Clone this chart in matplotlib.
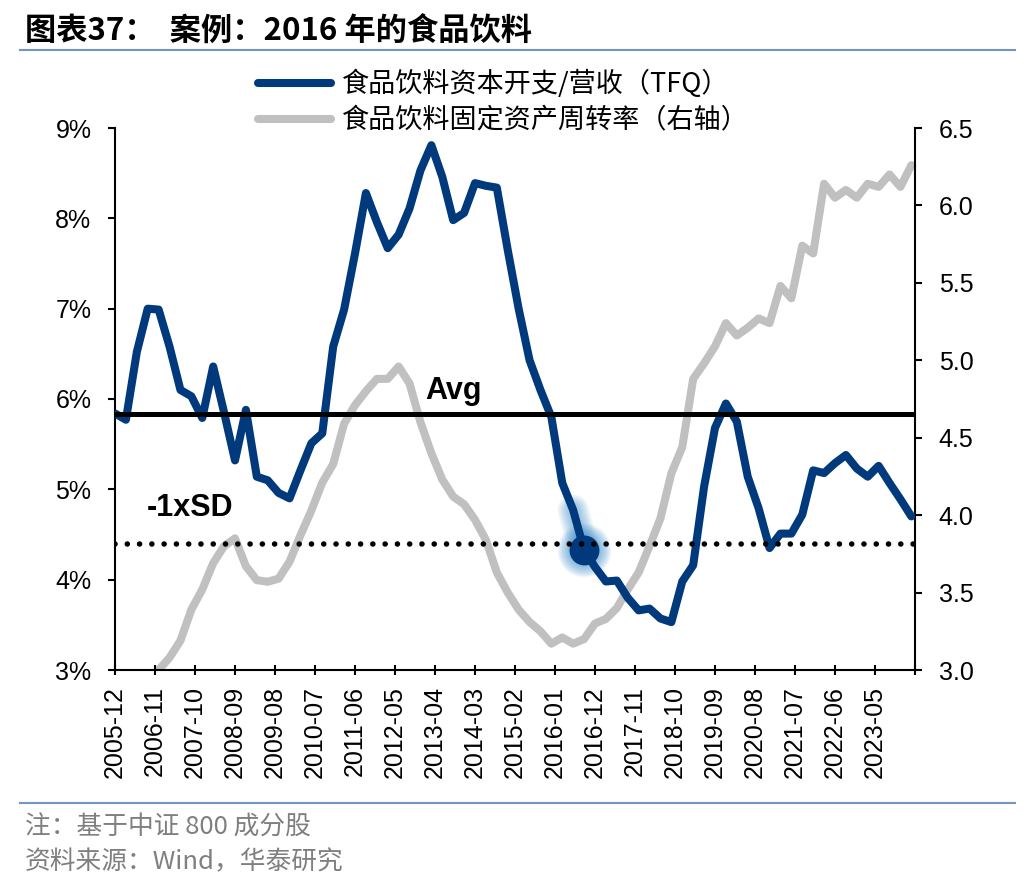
import numpy as np
import pandas as pd
import matplotlib
matplotlib.use("Agg")
import matplotlib.pyplot as plt
from matplotlib.lines import Line2D

# quarterly data, 2005-12 .. 2024-03
quarters = pd.date_range("2005-12-31", "2024-03-31", freq="QE")

capex_ratio = [5.84, 5.77, 6.52, 7.00, 6.99, 6.58, 6.10, 6.03, 5.79, 6.36,
               5.85, 5.32, 5.88, 5.14, 5.10, 4.96, 4.90, 5.21, 5.51, 5.62,
               6.58, 6.99, 7.61, 8.28, 7.96, 7.67, 7.82, 8.11, 8.53, 8.81,
               8.46, 7.98, 8.06, 8.39, 8.36, 8.34, 7.65, 7.00, 6.43, 6.10,
               5.80, 5.07, 4.77, 4.33, 4.14, 3.98, 3.99, 3.80, 3.66, 3.68,
               3.57, 3.53, 3.98, 4.16, 5.03, 5.68, 5.95, 5.75, 5.14, 4.79,
               4.35, 4.51, 4.51, 4.72, 5.21, 5.18, 5.29, 5.38, 5.23, 5.14,
               5.26, 5.07, 4.89, 4.70]

# fixed asset turnover starts 2006-12
turnover_start = 4
turnover = [3.00, 3.08, 3.19, 3.39, 3.52, 3.69, 3.80, 3.85, 3.67, 3.58,
            3.57, 3.59, 3.70, 3.87, 4.03, 4.21, 4.33, 4.59, 4.71, 4.80,
            4.88, 4.88, 4.96, 4.85, 4.60, 4.40, 4.23, 4.12, 4.07, 3.97,
            3.84, 3.63, 3.50, 3.39, 3.31, 3.25, 3.17, 3.21, 3.17, 3.20,
            3.30, 3.33, 3.40, 3.52, 3.63, 3.80, 3.98, 4.27, 4.44, 4.88,
            4.98, 5.09, 5.24, 5.16, 5.21, 5.27, 5.24, 5.48, 5.40, 5.74,
            5.69, 6.14, 6.05, 6.10, 6.05, 6.14, 6.12, 6.20, 6.12, 6.26]

avg_level = 5.83
sd_level = 4.39
highlight = "2016-09"

tick_labels = ["2005-12", "2006-11", "2007-10", "2008-09", "2009-08", "2010-07",
               "2011-06", "2012-05", "2013-04", "2014-03", "2015-02", "2016-01",
               "2016-12", "2017-11", "2018-10", "2019-09", "2020-08", "2021-07",
               "2022-06", "2023-05"]

label1 = "食品饮料资本开支/营收（TFQ）"
label2 = "食品饮料固定资产周转率（右轴）"
title = "图表37：  案例：2016 年的食品饮料"
note1 = "注：基于中证 800 成分股"
note2 = "资料来源：Wind，华泰研究"

BLUE = "#003A7D"
GRAY = "#C0C0C0"
GLOW = "#3C8FD0"
CJK = ["Noto Sans CJK SC", "DejaVu Sans"]
plt.rcParams["font.family"] = ["Liberation Sans", "DejaVu Sans"]


def month_index(dates):
    base = pd.Timestamp("2005-12-01")
    return np.array([(d.year - base.year) * 12 + d.month - base.month for d in dates])


x = month_index(quarters)
x_turn = x[turnover_start:]
tick_pos = month_index(pd.to_datetime(tick_labels, format="%Y-%m"))
tick_all = list(tick_pos) + [tick_pos[-1] + 11]

W, H = 1036, 892
fig = plt.figure(figsize=(W / 100, H / 100), dpi=100)
ax = fig.add_axes([115 / W, 1 - 670 / H, 800 / W, 542 / H])
ax2 = ax.twinx()
ax.set_zorder(ax2.get_zorder() + 1)
ax.patch.set_visible(False)

ax2.plot(x_turn, turnover, color=GRAY, lw=5.8, solid_capstyle="round",
         solid_joinstyle="round")
ax.plot(x, capex_ratio, color=BLUE, lw=5.8, solid_capstyle="round",
        solid_joinstyle="round", zorder=3)

# highlighted point with a soft glow
hi = list(quarters.strftime("%Y-%m")).index(highlight)
for w in np.arange(8, 24, 1.0):
    ax.plot(x[hi - 1:hi + 1], capex_ratio[hi - 1:hi + 1], color=GLOW,
            lw=w, alpha=0.035, solid_capstyle="round", zorder=2)
for s in np.arange(22, 40, 1.0):
    ax.plot(x[hi], capex_ratio[hi], "o", ms=s, color=GLOW, alpha=0.045,
            mec="none", zorder=2)
ax.plot(x[hi], capex_ratio[hi], "o", ms=21.5, color=BLUE, mec="none", zorder=4)

ax.axhline(avg_level, color="black", lw=3.6, zorder=5)
ax.axhline(sd_level, color="black", lw=4, ls=(0, (0.01, 2.2)),
           dash_capstyle="round", zorder=5)
ax.text(0.388, (avg_level - 3) / 6 + 0.015, "Avg", transform=ax.transAxes,
        fontsize=22, fontweight="bold", va="bottom", ha="left")
ax.text(0.04, (sd_level - 3) / 6 + 0.04, "-1xSD", transform=ax.transAxes,
        fontsize=22, fontweight="bold", va="bottom", ha="left")

ax.set_xlim(0, tick_all[-1])
ax.set_ylim(3, 9)
ax2.set_ylim(3.0, 6.5)
ax.set_yticks(np.arange(3, 10, 1))
ax.set_yticklabels([f"{v}%" for v in range(3, 10)])
ax2.set_yticks(np.arange(3.0, 6.51, 0.5))
ax2.set_yticklabels([f"{v:.1f}" for v in np.arange(3.0, 6.51, 0.5)])
ax.set_xticks(tick_all)
ax.set_xticklabels(tick_labels + [""], rotation=90)

for s in ["top", "right"]:
    ax.spines[s].set_visible(False)
for s in ["top", "left", "bottom"]:
    ax2.spines[s].set_visible(False)
for sp in [ax.spines["left"], ax.spines["bottom"], ax2.spines["right"]]:
    sp.set_linewidth(1.5)

ax.tick_params(axis="y", direction="out", length=5, width=1.5, pad=12, labelsize=18)
ax2.tick_params(axis="y", direction="out", length=5, width=1.5, pad=12, labelsize=18)
ax.tick_params(axis="x", direction="inout", length=7, width=1.5, pad=8, labelsize=18)

handles = [Line2D([], [], color=BLUE, lw=5.8, solid_capstyle="round"),
           Line2D([], [], color=GRAY, lw=5.8, solid_capstyle="round")]
fig.legend(handles, [label1, label2], loc="upper left",
           bbox_to_anchor=(258 / W, 1 - 70 / H), frameon=False,
           handlelength=2.7, handletextpad=0.4, labelspacing=0.35,
           borderpad=0, borderaxespad=0, prop={"family": CJK, "size": 19.5})

fig.text(25 / W, 1 - 32 / H, title, fontsize=22.5, fontweight="bold",
         family=CJK, va="center", ha="left")
fig.add_artist(Line2D([20 / W, 1015 / W], [1 - 50 / H] * 2, color="#7294C6", lw=1.5))
fig.add_artist(Line2D([20 / W, 1015 / W], [1 - 803 / H] * 2, color="#7294C6", lw=1.5))
fig.text(25 / W, 1 - 828 / H, note1, fontsize=18.5, color="#7F7F7F",
         family=CJK, va="center", ha="left")
fig.text(25 / W, 1 - 862 / H, note2, fontsize=18.5, color="#7F7F7F",
         family=CJK, va="center", ha="left")

fig.savefig("out.png", dpi=100)
